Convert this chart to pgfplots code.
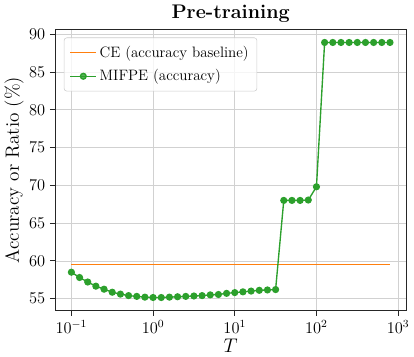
\documentclass[border=0pt]{standalone}
\usepackage{pgfplots}
\pgfplotsset{compat=1.18}
\definecolor{mplorange}{HTML}{FF7F0E}
\definecolor{mplgreen}{HTML}{2CA02C}
\begin{document}
\begin{tikzpicture}
\begin{axis}[
  scale only axis,
  width=256pt, height=205pt,
  xmode=log, log basis x=10,
  xmin=0.0638, xmax=1245,
  ymin=53.46, ymax=90.6,
  ytick={55,60,65,70,75,80,85,90},
  xtick={0.1,1,10,100,1000},
  tick align=outside,
  tick pos=left,
  major tick length=4pt, minor tick length=2.2pt,
  xmajorgrids, xminorgrids, ymajorgrids,
  major grid style={draw=black!18, line width=0.5pt},
  minor grid style={draw=black!12, line width=0.4pt},
  axis line style={draw=black!85, line width=0.6pt},
  every tick/.style={draw=black!85, line width=0.6pt},
  tick label style={font=\fontsize{11.5}{13}\selectfont},
  title={\textbf{Pre-training}},
  title style={font=\fontsize{14.4}{16}\selectfont, yshift=-4pt},
  xlabel={$T$},
  ylabel={Accuracy or Ratio (\%)},
  label style={font=\fontsize{14}{16}\selectfont},
  xlabel style={yshift=3pt},
  ylabel style={yshift=-3pt},
  legend style={font=\fontsize{11}{12}\selectfont, draw=black!20, rounded corners=2pt, fill=white, fill opacity=0.8, text opacity=1, at={(0.024,0.972)}, anchor=north west, row sep=3.5pt, inner xsep=4pt, inner ysep=4pt},
  legend cell align=left,
  legend image code/.code={\draw[#1] (0pt,0pt) -- (19pt,0pt); \draw[#1, only marks] plot coordinates {(9.5pt,0pt)};},
]
\addplot[mplorange, line width=1pt, forget plot] coordinates {(0.1,59.55) (794.3,59.55)};
\addlegendimage{mplorange, line width=1pt, mark=none}
\addlegendentry{CE (accuracy baseline)}
\addplot[mplgreen, line width=1pt, mark=*, mark size=2.1pt, mark options={solid}] coordinates {
(0.1000,58.5) (0.1259,57.8) (0.1585,57.2) (0.1995,56.65) (0.2512,56.25) (0.3162,55.85)
(0.3981,55.6) (0.5012,55.4) (0.6310,55.3) (0.7943,55.2) (1.0000,55.15) (1.2589,55.15)
(1.5849,55.2) (1.9953,55.25) (2.5119,55.3) (3.1623,55.35) (3.9811,55.4) (5.0119,55.5)
(6.3096,55.55) (7.9433,55.7) (10.000,55.8) (12.589,55.9) (15.849,56.0) (19.953,56.1)
(25.119,56.15) (31.623,56.2)
(39.811,68.0) (50.119,68.0) (63.096,68.0) (79.433,68.05) (100.00,69.8)
(125.89,88.9) (158.49,88.9) (199.53,88.9) (251.19,88.9) (316.23,88.9) (398.11,88.9)
(501.19,88.9) (630.96,88.9) (794.33,88.9)
};
\addlegendentry{MIFPE (accuracy)}
\end{axis}
\end{tikzpicture}
\end{document}
